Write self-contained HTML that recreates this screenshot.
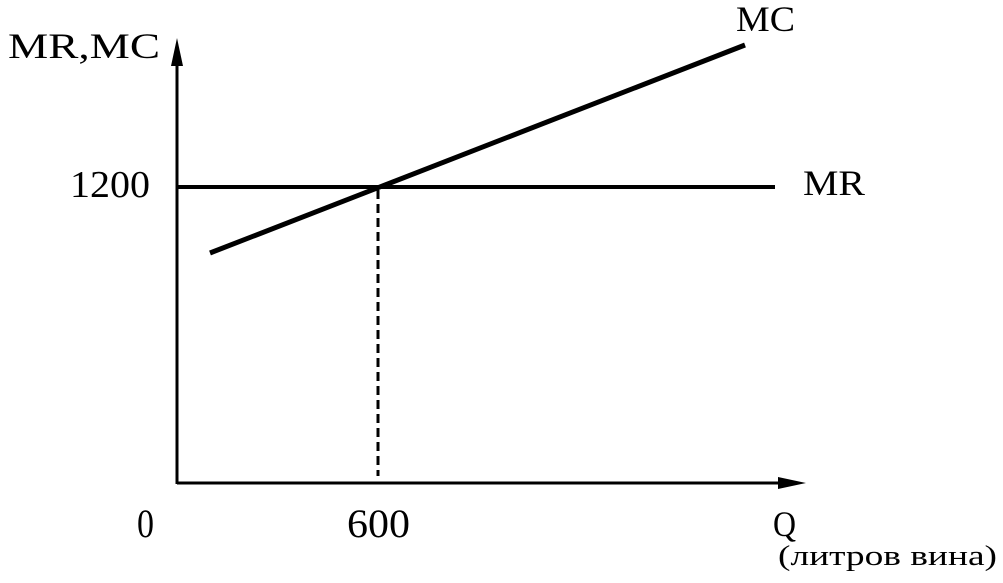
<!DOCTYPE html>
<html><head><meta charset="utf-8"><style>
html,body{margin:0;padding:0;background:#fff;}
svg{display:block;}
text{font-family:"Liberation Serif","DejaVu Serif",serif;fill:#000;}
</style></head><body>
<svg width="1003" height="583" viewBox="0 0 1003 583">
<line x1="177" y1="60" x2="177" y2="484" stroke="#000" stroke-width="3"/>
<polygon points="177,38 171,66 183,66" fill="#000"/>
<line x1="177" y1="483" x2="785" y2="483" stroke="#000" stroke-width="3"/>
<polygon points="806,483 778,477 778,489" fill="#000"/>
<line x1="177" y1="187" x2="775" y2="187" stroke="#000" stroke-width="4"/>
<line x1="210" y1="253" x2="745" y2="45" stroke="#000" stroke-width="5"/>
<line x1="378" y1="190" x2="378" y2="476" stroke="#000" stroke-width="3" stroke-dasharray="9,5"/>
<text x="8" y="58" font-size="36" textLength="152" lengthAdjust="spacingAndGlyphs">MR,MC</text>
<text x="70" y="197" font-size="38" textLength="80" lengthAdjust="spacingAndGlyphs">1200</text>
<text x="736" y="31" font-size="36" textLength="59" lengthAdjust="spacingAndGlyphs">MC</text>
<text x="803" y="195" font-size="36" textLength="62" lengthAdjust="spacingAndGlyphs">MR</text>
<text x="137" y="537" font-size="40" textLength="17" lengthAdjust="spacingAndGlyphs">0</text>
<text x="347" y="537" font-size="40" textLength="63" lengthAdjust="spacingAndGlyphs">600</text>
<text x="773" y="536" font-size="36" textLength="23" lengthAdjust="spacingAndGlyphs">Q</text>
<text x="778" y="565" font-size="29" textLength="219" lengthAdjust="spacingAndGlyphs">(литров вина)</text>
</svg>
</body></html>
